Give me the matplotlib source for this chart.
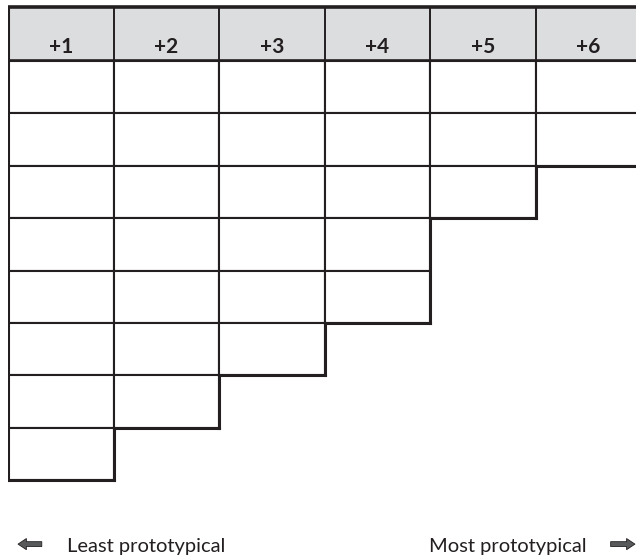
import matplotlib.pyplot as plt
from matplotlib.patches import Rectangle

plt.rcParams['font.family'] = ['Lato', 'DejaVu Sans']

col_labels = ['+1', '+2', '+3', '+4', '+5', '+6']
col_rows = [8, 7, 6, 5, 3, 2]   # number of empty cells below each header
left_label = 'Least prototypical'
right_label = 'Most prototypical'

ink = '#231f20'
head_grey = '#dcdddf'
head_h = 1.03

fig = plt.figure(figsize=(6.36, 5.58), dpi=100)
ax = fig.add_axes([8 / 636, 0, 628 / 636, 1])
ax.set_xlim(0, 5.95)
ax.set_ylim(9.485, -1.164)
ax.axis('off')

n = len(col_labels)

# header band
ax.add_patch(Rectangle((0, -head_h), n, head_h, facecolor=head_grey,
                       edgecolor='none', zorder=1))
for i, lab in enumerate(col_labels):
    ax.text(i + 0.5, -0.155, lab, ha='center', va='baseline', fontsize=15,
            fontweight='bold', color=ink, zorder=3)
    ax.plot([i, i], [-head_h, 0], color=ink, lw=1.4, zorder=2)
ax.plot([0, n], [-head_h, -head_h], color=ink, lw=2.6, zorder=2)
ax.plot([0, n], [0, 0], color=ink, lw=2.6, zorder=2)
ax.plot([0, 0], [-head_h, 0], color=ink, lw=2.2, zorder=2)

# empty cells
for i, rows in enumerate(col_rows):
    for j in range(rows):
        ax.add_patch(Rectangle((i, j), 1, 1, facecolor='white',
                               edgecolor=ink, lw=1.5, zorder=2))

# staircase outline
ax.plot([0, 0], [0, col_rows[0]], color=ink, lw=2.2, zorder=3)
for i, rows in enumerate(col_rows):
    ax.plot([i, i + 1], [rows, rows], color=ink, lw=2.2, zorder=3)
    nxt = col_rows[i + 1] if i + 1 < n else 0
    if nxt < rows:
        ax.plot([i + 1, i + 1], [nxt, rows], color=ink, lw=2.2, zorder=3)

# bottom legend
ax.text(0.56, 9.37, left_label, ha='left', va='baseline', fontsize=14.5,
        color=ink)
ax.text(3.99, 9.37, right_label, ha='left', va='baseline', fontsize=14.5,
        color=ink)
arrow = dict(arrowstyle='simple,head_width=0.8,head_length=0.6,tail_width=0.35',
             facecolor='#58595b', edgecolor=ink, lw=0.6, shrinkA=0, shrinkB=0)
ax.annotate('', xy=(0.095, 9.22), xytext=(0.32, 9.22), arrowprops=arrow)
ax.annotate('', xy=(5.94, 9.22), xytext=(5.71, 9.22), arrowprops=arrow)

fig.savefig('out.png', dpi=100)
